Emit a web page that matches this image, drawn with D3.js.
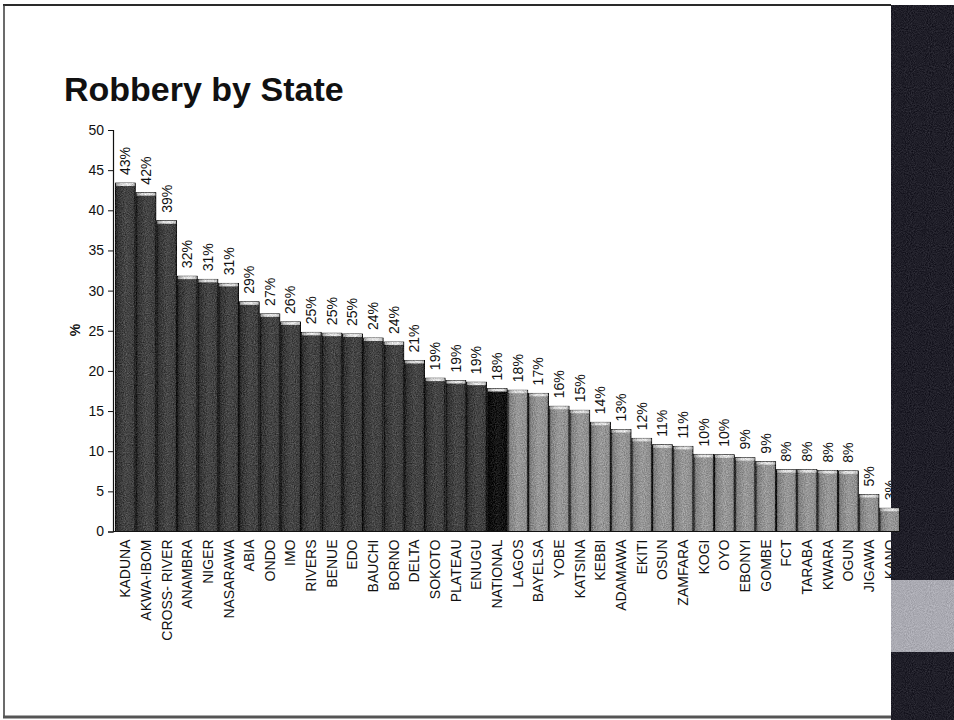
<!DOCTYPE html>
<html>
<head>
<meta charset="utf-8">
<script src="https://cdn.jsdelivr.net/npm/d3@7"></script>
<style>
  html, body { margin: 0; padding: 0; background: #fff; }
  svg { display: block; font-family: "Liberation Sans", Arial, sans-serif; }
</style>
</head>
<body>
<svg id="chart" width="954" height="720"></svg>
<script>
// Robbery prevalence by state (%), sorted high to low, with the national figure
const states = ["KADUNA","AKWA-IBOM","CROSS- RIVER","ANAMBRA","NIGER","NASARAWA","ABIA","ONDO","IMO",
  "RIVERS","BENUE","EDO","BAUCHI","BORNO","DELTA","SOKOTO","PLATEAU","ENUGU","NATIONAL","LAGOS",
  "BAYELSA","YOBE","KATSINA","KEBBI","ADAMAWA","EKITI","OSUN","ZAMFARA","KOGI","OYO","EBONYI",
  "GOMBE","FCT","TARABA","KWARA","OGUN","JIGAWA","KANO"];
const robbery = [43.4, 42.2, 38.7, 31.8, 31.4, 30.9, 28.6, 27.1, 26.1,
  24.8, 24.7, 24.6, 24.1, 23.6, 21.3, 19.1, 18.8, 18.6, 17.8, 17.6,
  17.2, 15.6, 15.1, 13.6, 12.7, 11.6, 10.8, 10.6, 9.6, 9.55, 9.2,
  8.7, 7.7, 7.7, 7.6, 7.55, 4.6, 2.9];
const yTicks = [0, 5, 10, 15, 20, 25, 30, 35, 40, 45, 50];
const nationalLabel = "NATIONAL";

const svg = d3.select("#chart");
const defs = svg.append("defs");

// opaque grey noise mixed into a shape's own colour
function grainFilter(id, box, freq, seed, amount) {
  const f = defs.append("filter").attr("id", id).attr("filterUnits", "userSpaceOnUse")
    .attr("x", box[0]).attr("y", box[1]).attr("width", box[2]).attr("height", box[3])
    .attr("color-interpolation-filters", "sRGB");
  f.append("feTurbulence").attr("type", "fractalNoise").attr("baseFrequency", freq)
    .attr("numOctaves", 2).attr("seed", seed).attr("result", "noise");
  f.append("feColorMatrix").attr("in", "noise").attr("type", "matrix")
    .attr("values", "1 0 0 0 0  1 0 0 0 0  1 0 0 0 0  0 0 0 0 1").attr("result", "gnoise");
  f.append("feComposite").attr("in", "SourceGraphic").attr("in2", "gnoise").attr("operator", "arithmetic")
    .attr("k1", 0).attr("k2", 1).attr("k3", amount).attr("k4", -amount / 2).attr("result", "mix");
  f.append("feComposite").attr("in", "mix").attr("in2", "SourceGraphic").attr("operator", "in");
}
grainFilter("grain", [100, 120, 810, 420], 0.9, 4, 0.35);
grainFilter("panelGrain", [885, 0, 75, 720], 0.95, 9, 0.22);

// horizontal shading for the three bar tones
function shade(id, stops) {
  const g = defs.append("linearGradient").attr("id", id).attr("x1", 0).attr("x2", 1).attr("y1", 0).attr("y2", 0);
  stops.forEach(([o, c]) => g.append("stop").attr("offset", o).attr("stop-color", c));
}
shade("toneHigh", [[0, "#202020"], [0.12, "#353535"], [0.5, "#464646"], [0.9, "#404040"], [1, "#2c2c2c"]]);
shade("toneNat",  [[0, "#080808"], [0.5, "#181818"], [1, "#0e0e0e"]]);
shade("toneLow",  [[0, "#555555"], [0.12, "#828282"], [0.5, "#999999"], [0.9, "#8f8f8f"], [1, "#707070"]]);
shade("cap", [[0, "#9a9a9a"], [0.3, "#d8d8d8"], [0.7, "#e4e4e4"], [1, "#b8b8b8"]]);

// slide frame and the dark side panel
svg.append("rect").attr("x", 891).attr("y", 5).attr("width", 63).attr("height", 715)
  .attr("fill", "#1f1e28").attr("filter", "url(#panelGrain)");
svg.append("rect").attr("x", 891).attr("y", 580).attr("width", 63).attr("height", 72)
  .attr("fill", "#aaaab2").attr("filter", "url(#panelGrain)");
svg.append("line").attr("x1", 3).attr("x2", 891).attr("y1", 5).attr("y2", 5)
  .attr("stroke", "#2a2a2a").attr("stroke-width", 2);
svg.append("line").attr("x1", 4).attr("x2", 4).attr("y1", 5).attr("y2", 717)
  .attr("stroke", "#3a3a3a").attr("stroke-width", 1.5);
svg.append("line").attr("x1", 3).attr("x2", 891).attr("y1", 717).attr("y2", 717)
  .attr("stroke", "#555").attr("stroke-width", 3);

// title
svg.append("text").attr("x", 64).attr("y", 101)
  .attr("font-size", 34).attr("font-weight", "bold").attr("fill", "#111")
  .text("Robbery by State");

// scales
const x = d3.scaleBand().domain(states).range([115, 900]).paddingInner(0.04).paddingOuter(0.02);
const y = d3.scaleLinear().domain([0, 50]).range([531.5, 130]);

const nationalValue = robbery[states.indexOf(nationalLabel)];
const tone = (name, v) => name === nationalLabel ? "url(#toneNat)" : (v > nationalValue ? "url(#toneHigh)" : "url(#toneLow)");

const data = states.map((s, i) => ({ state: s, value: robbery[i] }));

// bars
const bars = svg.append("g").attr("filter", "url(#grain)");
bars.selectAll("rect.bar").data(data).join("rect").attr("class", "bar")
  .attr("x", d => x(d.state))
  .attr("y", d => y(d.value))
  .attr("width", x.bandwidth())
  .attr("height", d => y(0) - y(d.value))
  .attr("fill", d => tone(d.state, d.value))
  .attr("stroke", "#0d0d0d").attr("stroke-width", 1);
bars.selectAll("rect.cap").data(data).join("rect").attr("class", "cap")
  .attr("x", d => x(d.state) + 0.5)
  .attr("y", d => y(d.value))
  .attr("width", x.bandwidth() - 1)
  .attr("height", 3)
  .attr("fill", "url(#cap)");

// y axis
const yAxis = svg.append("g").attr("transform", "translate(113,0)")
  .call(d3.axisLeft(y).tickValues(yTicks).tickSize(5).tickPadding(4).tickFormat(d3.format("d")));
yAxis.select(".domain").attr("stroke", "#111").attr("stroke-width", 1.2);
yAxis.selectAll(".tick line").attr("stroke", "#111");
yAxis.selectAll(".tick text").attr("font-size", 14).attr("fill", "#111")
  .attr("font-family", "'Liberation Sans', Arial, sans-serif");

svg.append("text").attr("transform", "translate(75,330) rotate(-90)")
  .attr("text-anchor", "middle").attr("dy", "0.35em")
  .attr("font-size", 14).attr("font-weight", "bold").attr("fill", "#111").text("%");

// x axis line
svg.append("line").attr("x1", 113).attr("x2", 900).attr("y1", y(0)).attr("y2", y(0))
  .attr("stroke", "#111").attr("stroke-width", 1.2);

// labels are cut off where the side panel begins
defs.append("clipPath").attr("id", "plotClip")
  .append("rect").attr("x", 0).attr("y", 0).attr("width", 891).attr("height", 720);
const labels = svg.append("g").attr("clip-path", "url(#plotClip)");

labels.selectAll("text.value").data(data).join("text").attr("class", "value")
  .attr("transform", d => `translate(${x(d.state) + x.bandwidth() / 2},${y(d.value) - 8}) rotate(-90)`)
  .attr("dy", "0.35em").attr("font-size", 14).attr("fill", "#111")
  .text(d => d3.format(".0f")(d.value) + "%");

labels.selectAll("text.state").data(data).join("text").attr("class", "state")
  .attr("transform", d => `translate(${x(d.state) + x.bandwidth() / 2},${y(0) + 8}) rotate(-90)`)
  .attr("text-anchor", "end").attr("dy", "0.35em").attr("font-size", 14).attr("fill", "#111")
  .text(d => d.state);
</script>
</body>
</html>
